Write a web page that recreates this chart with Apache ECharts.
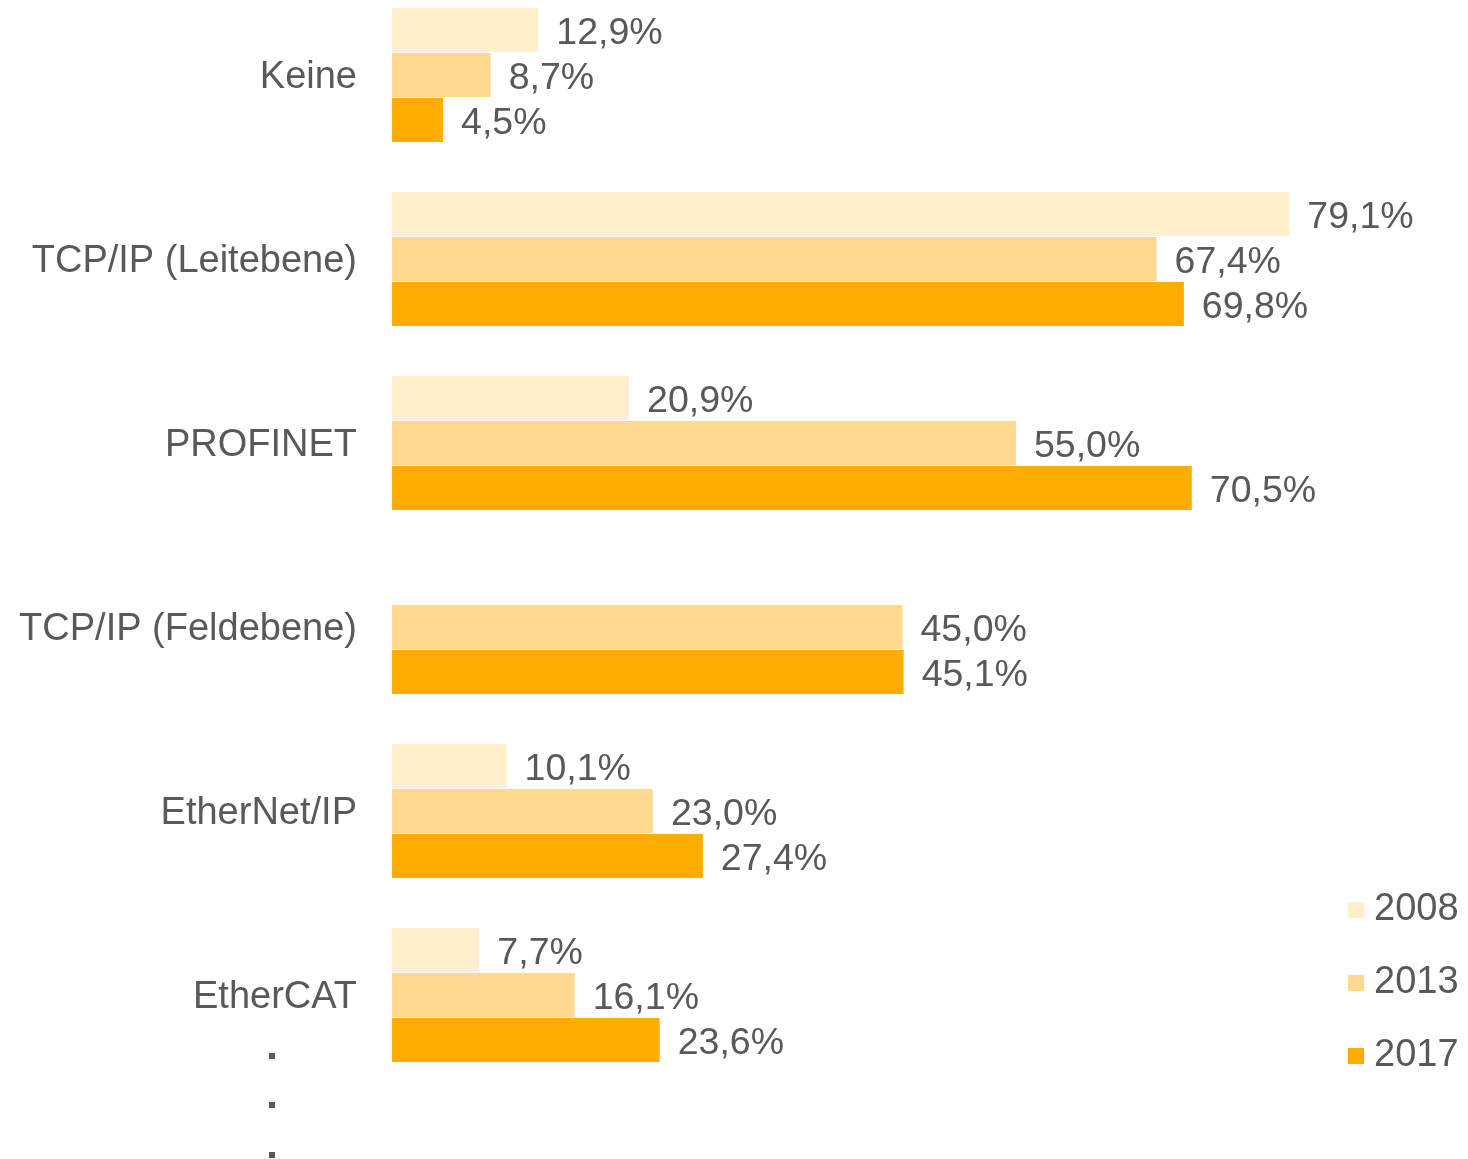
<!DOCTYPE html>
<html>
<head>
<meta charset="utf-8">
<script src="https://cdn.jsdelivr.net/npm/echarts@6/dist/echarts.min.js"></script>
<style>
  html, body { margin: 0; padding: 0; background: #fff; overflow: hidden; }
  /* the chart is cropped at the top, so the canvas starts 17px above the page */
  #main { width: 1468px; height: 1176px; margin-top: -17px; }
</style>
</head>
<body>
<div id="main"></div>
<script>
// data
var categories = ['Keine', 'TCP/IP (Leitebene)', 'PROFINET', 'TCP/IP (Feldebene)', 'EtherNet/IP', 'EtherCAT'];
var years = ['2008', '2013', '2017'];
var values2008 = [12.9, 79.1, 20.9, null, 10.1, 7.7];
var values2013 = [8.7, 67.4, 55.0, 45.0, 23.0, 16.1];
var values2017 = [4.5, 69.8, 70.5, 45.1, 27.4, 23.6];
var colors = ['#FFEFCD', '#FFD98F', '#FFAD00'];

var textColor = '#595959';
var font = 'Liberation Sans, Arial, sans-serif';
var shift = 17;

var myChart = echarts.init(document.getElementById('main'));

function pct(p) {
    return p.value.toFixed(1).replace('.', ',') + '%';
}

function makeSeries(name, data, color) {
    return {
        name: name,
        type: 'bar',
        data: data,
        barWidth: 44,
        barGap: '2.3%',
        itemStyle: { color: color },
        label: {
            show: true,
            position: 'right',
            distance: 18,
            offset: [0, 4],
            formatter: pct,
            color: textColor,
            fontSize: 37.5,
            fontFamily: font
        },
        emphasis: { disabled: true }
    };
}

function dot(y) {
    return { type: 'rect', left: 269, top: y + shift, shape: { width: 6, height: 6 }, style: { fill: textColor } };
}

var option = {
    animation: false,
    grid: {
        left: 392,
        right: 55,
        top: 0,
        bottom: 72
    },
    legend: {
        orient: 'vertical',
        left: 1348,
        top: 891 + shift,
        padding: 0,
        data: years,
        icon: 'rect',
        itemWidth: 16,
        itemHeight: 16,
        itemGap: 35,
        textStyle: {
            color: textColor,
            fontSize: 38,
            lineHeight: 37,
            fontFamily: font,
            padding: [0, 0, 0, 5]
        }
    },
    xAxis: {
        type: 'value',
        min: 0,
        max: 90,
        show: false
    },
    yAxis: {
        type: 'category',
        inverse: true,
        data: categories,
        axisLine: { show: false },
        axisTick: { show: false },
        splitLine: { show: false },
        axisLabel: {
            margin: 35,
            formatter: function (v) { return '{c|' + v + '}'; },
            rich: {
                c: {
                    color: textColor,
                    fontSize: 38,
                    fontFamily: font,
                    padding: [6, 0, 0, 0]
                }
            }
        }
    },
    graphic: [dot(1053), dot(1102), dot(1152)],
    series: [
        makeSeries(years[0], values2008, colors[0]),
        makeSeries(years[1], values2013, colors[1]),
        makeSeries(years[2], values2017, colors[2])
    ]
};

myChart.setOption(option);
</script>
</body>
</html>
